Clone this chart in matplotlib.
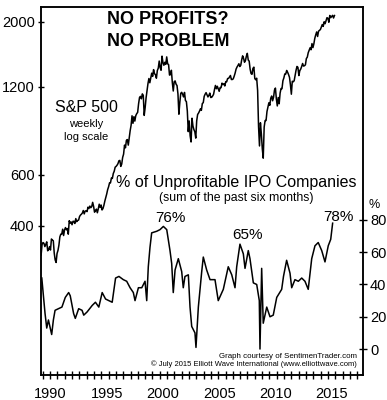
import matplotlib
matplotlib.use('Agg')
import matplotlib.pyplot as plt
import numpy as np

plt.rcParams['font.family'] = ['Liberation Sans', 'DejaVu Sans']

# S&P 500 month-end closes (weekly extremes put in where the chart spikes), Jun 1989 - Jul 2015
sp_start = 1989.45
sp_close = [
    318, 346, 351, 349, 340, 346, 353,
    329, 332, 340, 331, 361, 358, 356, 323, 306, 300, 322, 330,
    344, 367, 375, 375, 390, 371, 388, 395, 388, 392, 375, 417,
    409, 413, 404, 415, 415, 408, 424, 414, 418, 419, 431, 436,
    439, 443, 452, 440, 450, 451, 448, 464, 459, 468, 462, 466,
    482, 467, 446, 451, 457, 444, 458, 475, 463, 472, 454, 459,
    471, 487, 501, 515, 533, 545, 562, 562, 584, 582, 605, 616,
    636, 640, 646, 654, 669, 671, 640, 652, 687, 705, 757, 741,
    786, 791, 757, 801, 848, 885, 954, 899, 947, 915, 955, 970,
    980, 1049, 1102, 1112, 1091, 1134, 1121, 957, 1017, 1099, 1164, 1229,
    1280, 1238, 1286, 1335, 1302, 1373, 1329, 1320, 1283, 1363, 1389, 1469,
    1394, 1366, 1527, 1452, 1421, 1455, 1431, 1518, 1437, 1429, 1315, 1320,
    1366, 1240, 1160, 1249, 1256, 1224, 1211, 1134, 966, 1060, 1139, 1148,
    1130, 1107, 1147, 1076, 1067, 990, 842, 916, 815, 776, 936, 880,
    856, 841, 800, 917, 964, 975, 990, 1008, 996, 1051, 1058, 1112,
    1131, 1145, 1126, 1107, 1121, 1141, 1102, 1104, 1115, 1130, 1174, 1212,
    1181, 1204, 1181, 1157, 1192, 1191, 1234, 1220, 1229, 1207, 1249, 1248,
    1280, 1281, 1295, 1311, 1270, 1270, 1277, 1304, 1336, 1378, 1401, 1418,
    1438, 1407, 1421, 1482, 1531, 1503, 1455, 1474, 1527, 1561, 1481, 1468,
    1379, 1331, 1323, 1386, 1400, 1280, 1267, 1283, 1165, 876, 752, 903,
    826, 735, 683, 873, 919, 919, 987, 1021, 1057, 1036, 1096, 1115,
    1074, 1104, 1169, 1187, 1089, 1031, 1102, 1049, 1141, 1183, 1181, 1258,
    1286, 1327, 1326, 1364, 1345, 1321, 1292, 1219, 1131, 1253, 1247, 1258,
    1312, 1366, 1408, 1398, 1310, 1362, 1379, 1407, 1441, 1412, 1416, 1426,
    1498, 1515, 1569, 1598, 1631, 1606, 1686, 1633, 1682, 1757, 1806, 1848,
    1783, 1859, 1872, 1884, 1924, 1960, 1931, 2003, 1972, 2018, 2068, 2059,
    1995, 2105, 2068, 2086, 2107, 2063, 2104,
]
sp_years = sp_start + np.arange(len(sp_close)) / 12

# % of unprofitable IPO companies
ipo_years = [
    1989.51, 1989.80, 1989.95, 1990.10, 1990.39, 1990.54, 1990.69, 1990.99,
    1991.30, 1991.60, 1991.90, 1992.04, 1992.34, 1992.49, 1992.79, 1993.09,
    1993.24, 1993.54, 1993.99, 1994.28, 1994.58, 1994.88, 1995.18, 1995.47,
    1995.77, 1996.07, 1996.37, 1996.76, 1997.06, 1997.36, 1997.65, 1997.80,
    1998.10, 1998.40, 1998.69, 1998.84, 1998.98, 1999.13, 1999.28, 1999.73,
    2000.02, 2000.32, 2000.62, 2000.91, 2001.06, 2001.20, 2001.36, 2001.65,
    2001.95, 2002.09, 2002.24, 2002.54, 2002.69, 2002.84, 2003.13, 2003.22,
    2003.43, 2003.73, 2003.87, 2004.17, 2004.47, 2004.91, 2005.20, 2005.65,
    2006.09, 2006.40, 2006.69, 2006.84, 2007.13, 2007.43, 2007.58, 2007.87,
    2008.02, 2008.32, 2008.62, 2008.85, 2008.91, 2009.06, 2009.20, 2009.51,
    2009.80, 2010.09, 2010.40, 2010.84, 2011.00, 2011.28, 2011.58, 2011.73,
    2012.02, 2012.32, 2012.62, 2012.91, 2013.20, 2013.51, 2013.80, 2014.09,
    2014.40, 2014.69, 2014.98, 2015.20, 2015.37,
]
ipo_pct = [
    44, 22, 13, 18, 9, 18, 24, 25,
    26, 32, 35, 33, 22, 19, 25, 24,
    21, 23, 27, 29, 26, 35, 31, 30,
    29, 44, 45, 43, 42, 38, 35, 30,
    38, 38, 42, 30, 51, 63, 72, 73,
    74, 76, 74, 61, 53, 35, 49, 56,
    48, 38, 45, 46, 26, 14, 10, 1,
    26, 48, 57, 49, 43, 43, 30, 37,
    51, 46, 38, 51, 65, 59, 50, 61,
    56, 41, 40, 30, 0, 50, 16, 26,
    20, 21, 32, 37, 45, 55, 47, 38,
    43, 42, 44, 42, 37, 56, 64, 66,
    61, 54, 64, 68, 78,
]

left_ticks = [400, 600, 1200, 2000]
right_ticks = [0, 20, 40, 60, 80]
year_labels = [1990, 1995, 2000, 2005, 2010, 2015]

W, H = 387, 400
fig = plt.figure(figsize=(W / 100, H / 100), dpi=100)
ax = fig.add_axes([41 / W, 1 - 375 / H, 322 / W, 368 / H])

ax.plot(sp_years, sp_close, color='black', lw=1.1)
ax.set_yscale('log')
ax.set_ylim(123.5, 2250)
ax.set_xlim(1989.44, 2018.07)
ax.set_yticks(left_ticks)
ax.set_yticklabels([str(v) for v in left_ticks])
ax.minorticks_off()
ax.tick_params(axis='y', direction='inout', length=5, width=1, labelsize=10.5, pad=2)

ax.set_xticks([y + 0.3 for y in year_labels])
ax.set_xticklabels([str(y) for y in year_labels])
ax.set_xticks(np.arange(1989.6, 2017.6, 0.65), minor=True)
ax.tick_params(axis='x', which='major', length=0, labelsize=10.5, pad=9)
ax.tick_params(axis='x', which='minor', direction='inout', length=6, width=1)

ax2 = ax.twinx()
ax2.plot(ipo_years, ipo_pct, color='black', lw=1.1)
ax2.set_ylim(-16.1, 212)
ax2.set_yticks(right_ticks)
ax2.set_yticklabels([str(v) for v in right_ticks])
ax2.tick_params(axis='y', direction='inout', length=6, width=1, labelsize=10.5, pad=2)

for a in (ax, ax2):
    for s in a.spines.values():
        s.set_linewidth(1.1)
        s.set_color('black')

def ftxt(x, y, s, **kw):
    fig.text(x / W, 1 - y / H, s, ha=kw.pop('ha', 'center'), va=kw.pop('va', 'center'), **kw)

ftxt(168, 20, 'NO PROFITS?', fontsize=13, fontweight='bold')
ftxt(168, 42, 'NO PROBLEM', fontsize=13, fontweight='bold')
ftxt(86, 108, 'S&P 500', fontsize=11.5)
ftxt(86, 124, 'weekly', fontsize=8)
ftxt(86, 137, 'log scale', fontsize=8)
ftxt(236, 183, '% of Unprofitable IPO Companies', fontsize=11.5)
ftxt(236, 198, '(sum of the past six months)', fontsize=8.8)
ftxt(170, 218, '76%', fontsize=11)
ftxt(248, 235, '65%', fontsize=11)
ftxt(338, 217, '78%', fontsize=11)
ftxt(374, 205, '%', fontsize=9)
ftxt(357, 356, 'Graph courtesy of SentimenTrader.com', fontsize=5.7, ha='right')
ftxt(357, 364, '\u00a9 July 2015 Elliott Wave International (www.elliottwave.com)', fontsize=5.5, ha='right')

fig.savefig('out.png', dpi=100)
